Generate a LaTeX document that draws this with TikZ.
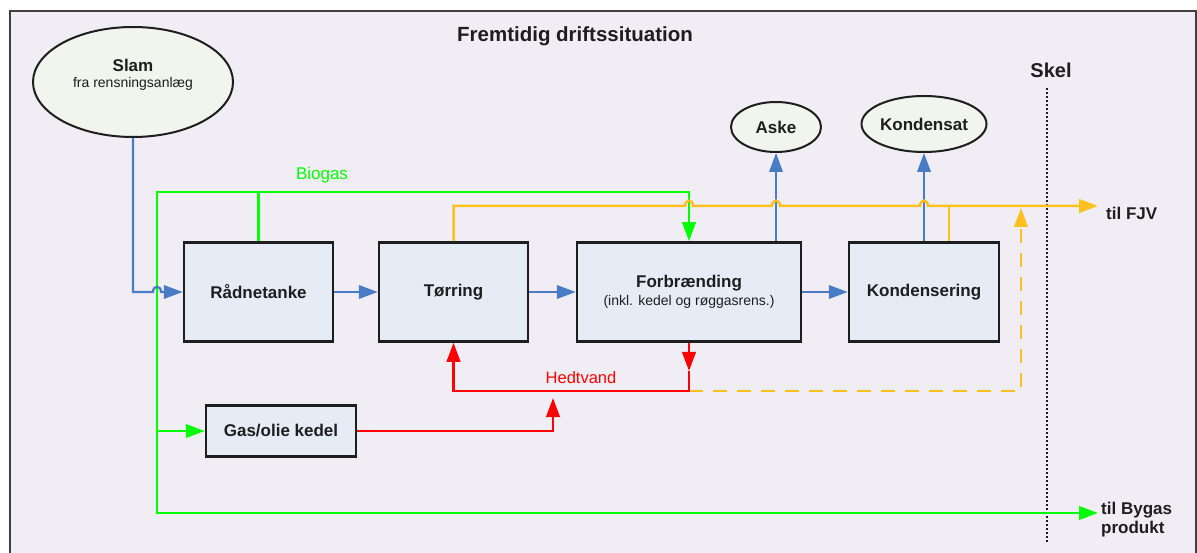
\documentclass[tikz,border=0pt]{standalone}
\usepackage{fontspec}
\setmainfont{Liberation Sans}
\usetikzlibrary{arrows.meta,shapes.geometric}
\definecolor{bg}{HTML}{F0EEF4}
\definecolor{boxfill}{HTML}{E6ECF6}
\definecolor{ellfill}{HTML}{F2F4EE}
\definecolor{flowblue}{HTML}{4A7CC6}
\definecolor{biogreen}{HTML}{00FF00}
\definecolor{heatorange}{HTML}{FFC020}
\definecolor{hotred}{HTML}{FF0000}
\definecolor{ink}{HTML}{1E1E1E}
\tikzset{
  procbox/.style={draw=ink, line width=2.5pt, fill=boxfill, inner sep=0pt, align=center, text=ink,
    font=\fontsize{17}{19}\selectfont\bfseries},
  prodell/.style={ellipse, draw=ink, line width=2pt, fill=ellfill, inner sep=0pt, align=center, text=ink,
    font=\fontsize{17}{19}\selectfont\bfseries},
  flowtip/.style={-{Triangle[length=19pt,width=13.5pt]}},
  blueflow/.style={draw=flowblue, line width=2.2pt},
  greenflow/.style={draw=biogreen, line width=2.5pt},
  orangeflow/.style={draw=heatorange, line width=2.5pt},
  redflow/.style={draw=hotred, line width=2.5pt},
  boldlabel/.style={text=ink, font=\fontsize{17}{19}\selectfont\bfseries, inner sep=0pt},
}
\begin{document}
\begin{tikzpicture}[x=1pt,y=-1pt]
\useasboundingbox (0,0) rectangle (1197,553);
\clip (0,0) rectangle (1197,553);
\fill[white] (0,0) rectangle (1197,553);
\draw[line width=2pt, draw=ink!85, fill=bg] (9.5,11) rectangle (1196,600);

% title
\node[text=ink, font=\fontsize{20.5}{23}\selectfont\bfseries] (title) at (575,36) {Fremtidig driftssituation};

% ellipses
\node[prodell, minimum width=200pt, minimum height=110pt] (slam) at (133,82) {};
\node[boldlabel] (slamt) at (133,65) {Slam};
\node[text=ink, font=\fontsize{14}{16}\selectfont, inner sep=0pt] (slamsub) at (133,84) {fra rensningsanlæg};
\node[prodell, minimum width=90pt, minimum height=50pt] (aske) at (776,127) {Aske};
\node[prodell, minimum width=125pt, minimum height=56pt] (kondensat) at (924,124) {Kondensat};

% process boxes
\node[procbox, minimum width=149pt, minimum height=99pt] (raad) at (258.5,292) {Rådnetanke};
\node[procbox, minimum width=149pt, minimum height=99pt] (torr) at (453.5,292) {Tørring};
\node[procbox, minimum width=224pt, minimum height=99pt] (forb) at (689,292)
  {Forbrænding\\[-1pt]{\fontsize{14}{16}\selectfont\mdseries (inkl. kedel og røggasrens.)}};
\node[procbox, minimum width=150pt, minimum height=99pt] (kond) at (924,292) {Kondensering};
\node[procbox, minimum width=150pt, minimum height=51pt] (gas) at (281,431) {Gas/olie kedel};

% labels
\node[text=biogreen, font=\fontsize{17}{19}\selectfont, inner sep=0pt] (biogas) at (322,175) {Biogas};
\node[text=hotred, font=\fontsize{16.5}{19}\selectfont, inner sep=0pt] (hedt) at (581,378) {Hedtvand};
\node[text=ink, font=\fontsize{20}{22}\selectfont\bfseries, inner sep=0pt] (skel) at (1051,70) {Skel};
\node[boldlabel, anchor=west] (fjvlabel) at (1106,213) {til FJV};
\node[boldlabel, anchor=west, align=left] (bygaslabel) at (1101,520) {til Bygas\\produkt};

% coordinates
\coordinate (fjv) at (1098,206);
\coordinate (bygas) at (1098,513);
\coordinate (kondtap) at ([xshift=25pt]kond.north);
\coordinate (skeltop) at (1047,88);
\coordinate (skelbot) at (1047,543);
\coordinate (forbred) at (689,371);
\coordinate (gasup) at (553,398);
\coordinate (dashtop) at (1021,208);

% Skel boundary
\draw[ink, line width=2pt, dash pattern=on 2pt off 2pt] (skeltop) -- (skelbot);

% green biogas
\draw[greenflow, flowtip] (raad.north) |- (157,192) |- (bygas);
\draw[greenflow, flowtip] (raad.north) |- (689,192) -- (forb.north);
\draw[greenflow, flowtip] (157,431) -- (gas.west);

% blue flows
\draw[blueflow, flowtip] (slam.south) |- (153,292) .. controls (153,285) and (161,285) .. (161,292) -- (raad.west);
\draw[blueflow, flowtip] (raad.east) -- (torr.west);
\draw[blueflow, flowtip] (torr.east) -- (forb.west);
\draw[blueflow, flowtip] (forb.east) -- (kond.west);
\draw[blueflow, flowtip] (aske.south |- forb.north) -- (aske.south);
\draw[blueflow, flowtip] (kond.north) -- (kondensat.south);

% orange district heating
\draw[orangeflow, flowtip] (torr.north) |- (685,206)
  .. controls (685,199) and (693,199) .. (693,206) -- (772,206)
  .. controls (772,199) and (780,199) .. (780,206) -- (920,206)
  .. controls (920,199) and (928,199) .. (928,206) -- (fjv);
\draw[orangeflow] (kondtap) -- (kondtap |- fjv);
\draw[orangeflow, dash pattern=on 14pt off 10pt, flowtip] (689,391) -| (dashtop);

% red hot water
\draw[redflow, flowtip] (forb.south) -- (forbred);
\draw[redflow, flowtip] (forbred) |- (453.5,391) -- (torr.south);
\draw[redflow, flowtip] (gas.east) -| (gasup);
\end{tikzpicture}
\end{document}
